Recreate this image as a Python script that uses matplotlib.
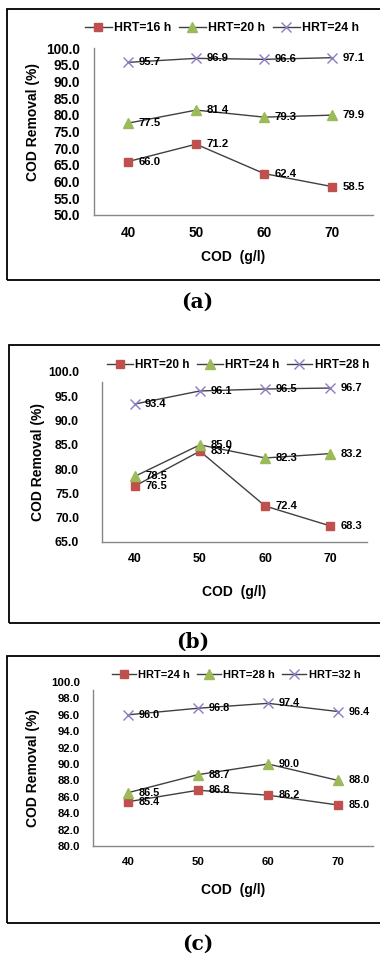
import matplotlib
matplotlib.use("Agg")
import matplotlib.pyplot as plt
from matplotlib.patches import Rectangle
import matplotlib.ticker as mticker

plt.rcParams['font.family'] = ['Liberation Sans', 'DejaVu Sans']

# ---------------- data ----------------
cod = [40, 50, 60, 70]

a_labels = ["HRT=16 h", "HRT=20 h", "HRT=24 h"]
a_hrt16 = [66.0, 71.2, 62.4, 58.5]
a_hrt20 = [77.5, 81.4, 79.3, 79.9]
a_hrt24 = [95.7, 96.9, 96.6, 97.1]

b_labels = ["HRT=20 h", "HRT=24 h", "HRT=28 h"]
b_hrt20 = [76.5, 83.7, 72.4, 68.3]
b_hrt24 = [78.5, 85.0, 82.3, 83.2]
b_hrt28 = [93.4, 96.1, 96.5, 96.7]

c_labels = ["HRT=24 h", "HRT=28 h", "HRT=32 h"]
c_hrt24 = [85.4, 86.8, 86.2, 85.0]
c_hrt28 = [86.5, 88.7, 90.0, 88.0]
c_hrt32 = [96.0, 96.8, 97.4, 96.4]

a_yticks = [50, 55, 60, 65, 70, 75, 80, 85, 90, 95, 100]
b_yticks = [65, 70, 75, 80, 85, 90, 95, 100]
c_yticks = [80, 82, 84, 86, 88, 90, 92, 94, 96, 98, 100]

panel_letters = ["(a)", "(b)", "(c)"]
ylabel_text = "COD Removal (%)"
xlabel_text = "COD  (g/l)"

# ---------------- layout ----------------
W, H = 380, 958
fig = plt.figure(figsize=(W / 100, H / 100), dpi=100)


def fx(px):
    return px / W


def fy(py):
    return 1 - py / H


RED = '#C0504D'
GREEN = '#9BBB59'
PURPLE = '#8E7CC3'
LINE = '#404040'
AXIS = '#868686'

panels = [
    dict(series=[a_hrt16, a_hrt20, a_hrt24], labels=a_labels, yticks=a_yticks,
         box=(7, 9, 280), ax=(94, 48, 373, 215), xlim=(35, 76), ylim=(50, 100),
         ytop=100, ypad=10, tsize=9.8, dsize=8.2, lsize=8.8, leg=(222, 28),
         ylab=(33, 122), xlab_y=257, letter=(197, 302)),
    dict(series=[b_hrt20, b_hrt24, b_hrt28], labels=b_labels, yticks=b_yticks,
         box=(9, 345, 623), ax=(102, 372, 367, 542), xlim=(35, 75.6), ylim=(65, 100),
         ytop=98, ypad=16.5, tsize=8.8, dsize=8.0, lsize=8.5, leg=(238, 365),
         ylab=(38, 462), xlab_y=592, letter=(193, 642)),
    dict(series=[c_hrt24, c_hrt28, c_hrt32], labels=c_labels, yticks=c_yticks,
         box=(7, 656, 923), ax=(93, 682, 373, 846), xlim=(35, 75), ylim=(80, 100),
         ytop=99, ypad=9.4, tsize=8.2, dsize=7.8, lsize=8.0, leg=(236, 675),
         ylab=(33, 768), xlab_y=890, letter=(198, 944)),
]

styles = [
    dict(marker='s', mfc=RED, mec=RED, ms=6),
    dict(marker='^', mfc=GREEN, mec=GREEN, ms=6.5),
    dict(marker='x', mfc=PURPLE, mec=PURPLE, ms=7, mew=1.0),
]

for p in panels:
    bx, bt, bb = p['box']
    fig.patches.append(Rectangle((fx(bx), fy(bb)), (W + 20 - bx) / W, (bb - bt) / H,
                                 transform=fig.transFigure, fill=False,
                                 ec='black', lw=1.3, zorder=0))
    l, t, r, b = p['ax']
    ax = fig.add_axes([fx(l), fy(b), (r - l) / W, (b - t) / H])
    ax.set_xlim(*p['xlim'])
    ax.set_ylim(*p['ylim'])
    ax.patch.set_alpha(0)

    for vals, lab, st in zip(p['series'], p['labels'], styles):
        ax.plot(cod, vals, color=LINE, lw=1.0, label=lab, clip_on=False, **st)
        for x, v in zip(cod, vals):
            ax.annotate(f"{v:.1f}", (x, v), xytext=(7.5, 0), textcoords='offset points',
                        ha='left', va='center', fontsize=p['dsize'], fontweight='bold',
                        color='black')

    ax.set_xticks(cod)
    ax.set_yticks(p['yticks'])
    ax.yaxis.set_major_formatter(mticker.FormatStrFormatter('%.1f'))
    ax.tick_params(axis='both', length=0, labelsize=p['tsize'])
    ax.tick_params(axis='y', pad=p['ypad'])
    ax.tick_params(axis='x', pad=8)
    for tl in ax.get_xticklabels() + ax.get_yticklabels():
        tl.set_fontweight('bold')

    for s in ['top', 'right']:
        ax.spines[s].set_visible(False)
    for s in ['left', 'bottom']:
        ax.spines[s].set_color(AXIS)
        ax.spines[s].set_linewidth(1.0)
    ax.spines['left'].set_bounds(p['ylim'][0], p['ytop'])

    ax.set_ylabel(ylabel_text, fontsize=10, fontweight='semibold')
    ax.yaxis.label.set_va('center')
    ax.yaxis.label.set_ha('center')
    ax.yaxis.set_label_coords((p['ylab'][0] - l) / (r - l), (b - p['ylab'][1]) / (b - t))
    ax.set_xlabel(xlabel_text, fontsize=10, fontweight='semibold')
    ax.xaxis.label.set_va('center')
    ax.xaxis.set_label_coords(0.5, (b - p['xlab_y']) / (b - t))

    ax.legend(ncol=3, loc='center', bbox_to_anchor=(fx(p['leg'][0]), fy(p['leg'][1])),
              bbox_transform=fig.transFigure, frameon=False, handlelength=2.2,
              handletextpad=0.2, columnspacing=0.6, borderpad=0,
              prop={'weight': 'bold', 'size': p['lsize']})

for p, letter in zip(panels, panel_letters):
    fig.text(fx(p['letter'][0]), fy(p['letter'][1]), letter, ha='center', va='center',
             fontsize=14.5, fontweight='bold', family='DejaVu Serif')

fig.savefig('out.png', dpi=100)
